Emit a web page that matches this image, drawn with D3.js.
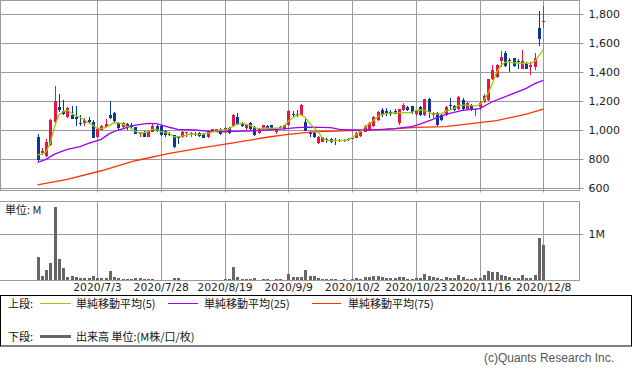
<!DOCTYPE html>
<html>
<head>
<meta charset="utf-8">
<script src="https://cdn.jsdelivr.net/npm/d3@7"></script>
<style>
  body { margin: 0; background: #fff; }
  svg { display: block; }
</style>
</head>
<body>
<div id="chart"></div>
<script>
// daily candles, 2020/6/15 .. 2020/12/8 (index = trading day)
const opens = [
  955,845,822,898,1057,1160,1132,1091,1105,1091,
  1052,1050,1071,1057,954,1002,1022,1105,1119,1050,
  1025,1045,1040,1020,976,990,956,990,1030,1029,
  995,976,967,956,953,980,978,976,979,974,
  954,988,995,1002,988,1015,1029,1091,1052,1013,
  1050,1022,981,1010,1030,1036,988,1025,1008,1036,
  1115,1115,1105,1060,990,983,915,922,938,938,
  930,935,930,938,945,949,961,991,998,1030,
  1071,1140,1130,1125,1135,1048,1140,1160,1165,1110,
  1158,1105,1213,1105,1122,1105,1105,1175,1168,1145,
  1208,1145,1175,1140,1160,1197,1210,1354,1365,1480,
  1535,1485,1496,1478,1423,1462,1440,1439,1705,1750
];
const highs = [
  975,877,940,1075,1305,1250,1209,1160,1170,1167,
  1105,1085,1091,1070,1010,1035,1077,1202,1125,1055,
  1055,1050,1050,1025,985,995,1003,1050,1035,1035,
  1000,985,970,960,992,985,988,985,985,980,
  1000,1012,1010,1015,1020,1020,1110,1121,1060,1040,
  1055,1030,1010,1040,1036,1040,1010,1030,1040,1140,
  1135,1140,1180,1075,995,990,960,955,950,945,
  945,942,940,945,955,985,1000,1035,1055,1100,
  1135,1155,1155,1140,1150,1150,1185,1170,1170,1140,
  1165,1215,1220,1125,1125,1110,1170,1220,1175,1235,
  1220,1195,1180,1146,1200,1250,1355,1450,1460,1545,
  1545,1500,1500,1490,1553,1470,1470,1530,1823,1857
];
const lows = [
  790,830,815,890,1050,1126,1105,1085,1075,1029,
  1029,1029,1043,946,950,1000,1020,1080,1060,1000,
  1010,1005,1010,972,952,953,952,985,990,960,
  955,960,880,905,950,953,955,960,955,945,
  950,985,988,965,980,975,1025,1035,1020,1005,
  1000,960,975,1005,1005,1000,975,1010,1000,1030,
  1083,1090,1100,995,952,945,905,918,915,915,
  898,918,920,925,938,945,955,985,995,1025,
  1065,1095,1100,1100,1110,1040,1130,1130,1115,1100,
  1100,1100,1082,1082,1030,1065,1100,1140,1135,1140,
  1130,1140,1135,1098,1140,1190,1200,1350,1360,1440,
  1440,1405,1440,1425,1420,1420,1381,1415,1584,1705
];
const closes = [
  795,858,919,1071,1202,1140,1112,1153,1077,1077,
  1050,1071,1057,946,1008,1029,1043,1084,1064,1015,
  1048,1015,1020,974,983,956,998,1029,995,967,
  967,972,884,945,988,985,984,972,960,946,
  995,1008,1008,974,1015,981,1105,1043,1030,1036,
  1008,967,1008,1036,1008,1003,1008,1015,1036,1133,
  1110,1112,1175,998,975,952,956,952,936,922,
  928,925,932,930,950,979,998,1032,1048,1094,
  1128,1105,1120,1110,1115,1145,1175,1140,1125,1133,
  1105,1213,1128,1120,1036,1071,1163,1165,1140,1232,
  1150,1186,1140,1144,1185,1236,1351,1416,1450,1503,
  1443,1475,1443,1475,1478,1423,1452,1496,1628,1756
];
// volume, millions of shares
const volumes = [
  0.50,0.09,0.22,0.37,1.58,0.46,0.27,0.08,0.09,0.07,
  0.05,0.05,0.05,0.09,0.05,0.05,0.05,0.20,0.07,0.05,
  0.03,0.03,0.03,0.05,0.05,0.02,0.03,0.03,0.005,0.005,
  0.005,0.005,0.05,0.05,0.005,0.005,0.005,0.005,0.005,0.005,
  0.005,0.005,0.005,0.005,0.03,0.03,0.29,0.07,0.03,0.03,
  0.03,0.05,0.01,0.03,0.03,0.01,0.03,0.03,0.01,0.14,
  0.07,0.07,0.07,0.22,0.09,0.09,0.05,0.03,0.03,0.03,
  0.03,0.01,0.03,0.01,0.03,0.05,0.03,0.07,0.07,0.09,
  0.09,0.07,0.05,0.05,0.05,0.07,0.07,0.03,0.03,0.05,
  0.05,0.14,0.09,0.07,0.05,0.03,0.07,0.05,0.05,0.12,
  0.07,0.03,0.03,0.05,0.05,0.12,0.20,0.18,0.18,0.12,
  0.09,0.07,0.05,0.05,0.12,0.05,0.05,0.12,0.92,0.76
];
// moving averages
const ma5 = [
  830,836,852,910,1025,1105,1128,1140,1117,1099,
  1090,1071,1052,1036,1014,1014,1018,1036,1052,1052,
  1043,1029,1014,995,983,983,990,1007,1007,990,
  985,979,956,956,960,967,974,974,972,974,
  979,988,995,1002,1002,1007,1029,1043,1048,1043,
  1036,1018,1011,1014,1014,1014,1014,1014,1030,1060,
  1085,1106,1106,1090,1050,1020,990,950,932,929,
  929,930,931,933,950,970,990,1020,1045,1066,
  1094,1108,1115,1118,1121,1122,1122,1122,1122,1138,
  1140,1135,1128,1112,1112,1115,1130,1140,1150,1170,
  1174,1174,1170,1168,1175,1205,1255,1320,1400,1445,
  1470,1470,1466,1462,1462,1462,1460,1475,1515,1556
];
const ma25 = [[0,779],[2,800],[4,836],[7,869],[10,887],[12,910],[15,938],[17,979],[19,1002],
  [23,1036],[26,1048],[28,1046],[31,1021],[33,1007],[37,1002],[40,995],[43,990],[46,992],
  [49,995],[54,1002],[58,1010],[61,1018],[64,1022],[69,1018],[71,1007],[74,1002],[80,1005],
  [84,1012],[88,1025],[90,1043],[93,1075],[96,1110],[100,1138],[104,1150],[107,1197],
  [111,1243],[115,1289],[117,1322],[119,1345]];
const ma75 = [[0,623],[7,662],[15,721],[23,790],[31,841],[39,880],[46,914],[54,952],[58,968],
  [63,984],[66,991],[74,998],[82,1007],[89,1020],[96,1025],[101,1043],[108,1066],
  [115,1112],[119,1146]];

const tickIdx = [14, 29, 44, 59, 74, 89, 104, 119];
const tickLabels = ["2020/7/3","2020/7/28","2020/8/19","2020/9/9","2020/10/2","2020/10/23","2020/11/16","2020/12/8"];
const priceTicks = [600, 800, 1000, 1200, 1400, 1600, 1800];
const volTicks = [1];

const W = 633, H = 371;
const plotR = 579.5;
const top1 = 0.5, bot1 = 190.5;
const top2 = 201.5, bot2 = 280.5;

const upColor = "#ee1144", downColor = "#0b379a";
const gridColor = "#9a9a9a";
const jp = "'Noto Sans CJK JP', sans-serif";
const num = "'DejaVu Sans', sans-serif";

const svg = d3.select("#chart").append("svg")
    .attr("width", W)
    .attr("height", H)
    .attr("viewBox", `0 0 ${W} ${H}`);

const x = d3.scaleLinear().domain([0, 119]).range([37.5, 543.25]);
const y = d3.scaleLinear().domain([600, 1800]).range([188.3, 14.3]);
const yv = d3.scaleLinear().domain([0, 1]).range([280.3, 234]);

const px = i => Math.round(x(i));
const crisp = v => Math.round(v) + 0.5;

// ---- price panel grid + frame
const g1 = svg.append("g");
g1.selectAll("line.hg").data(priceTicks).join("line")
    .attr("x1", 0).attr("x2", plotR + 4)
    .attr("y1", d => crisp(y(d))).attr("y2", d => crisp(y(d)))
    .attr("stroke", gridColor);
g1.selectAll("line.vg").data(tickIdx).join("line")
    .attr("x1", d => px(d) + 0.5).attr("x2", d => px(d) + 0.5)
    .attr("y1", top1).attr("y2", bot1 + 2)
    .attr("stroke", gridColor);
g1.append("rect")
    .attr("x", 0.5).attr("y", top1)
    .attr("width", plotR - 0.5).attr("height", bot1 - top1)
    .attr("fill", "none").attr("stroke", gridColor);

// right price axis
const yAxis = d3.axisRight(y).tickValues(priceTicks).tickSize(0).tickPadding(9)
    .tickFormat(d3.format(","));
svg.append("g")
    .attr("transform", `translate(${plotR},0)`)
    .call(yAxis)
    .call(g => g.select(".domain").remove())
    .call(g => g.selectAll("text").attr("font-family", num).attr("font-size", 11).attr("fill", "#222"));

// ---- candles
const idx = d3.range(opens.length);
const candles = svg.append("g").attr("shape-rendering", "crispEdges");
candles.selectAll("line").data(idx).join("line")
    .attr("x1", i => px(i) + 0.5).attr("x2", i => px(i) + 0.5)
    .attr("y1", i => y(highs[i])).attr("y2", i => y(lows[i]))
    .attr("stroke", i => closes[i] >= opens[i] ? upColor : downColor);
candles.selectAll("rect").data(idx).join("rect")
    .attr("x", i => px(i) - 1)
    .attr("width", 3)
    .attr("y", i => y(Math.max(opens[i], closes[i])))
    .attr("height", i => Math.max(1, Math.abs(y(opens[i]) - y(closes[i]))))
    .attr("fill", i => closes[i] >= opens[i] ? upColor : downColor);

// ---- moving averages
const line5 = d3.line().x((d, i) => x(i)).y(d => y(d));
const lineK = d3.line().x(d => x(d[0])).y(d => y(d[1]));
svg.append("path").datum(ma75).attr("d", lineK)
    .attr("fill", "none").attr("stroke", "#ff3300").attr("stroke-width", 1.3);
svg.append("path").datum(ma25).attr("d", lineK)
    .attr("fill", "none").attr("stroke", "#9900ff").attr("stroke-width", 1.3);
svg.append("path").datum(ma5).attr("d", line5)
    .attr("fill", "none").attr("stroke", "#99cc00").attr("stroke-width", 1.3);

// ---- volume panel
const g2 = svg.append("g");
g2.selectAll("line.hg").data(volTicks).join("line")
    .attr("x1", 0).attr("x2", plotR + 4)
    .attr("y1", d => crisp(yv(d))).attr("y2", d => crisp(yv(d)))
    .attr("stroke", gridColor);
g2.selectAll("line.vg").data(tickIdx).join("line")
    .attr("x1", d => px(d) + 0.5).attr("x2", d => px(d) + 0.5)
    .attr("y1", top2).attr("y2", bot2)
    .attr("stroke", gridColor);
g2.append("path")
    .attr("d", `M0,${top2}H${plotR}V${bot2}H0`)
    .attr("fill", "none").attr("stroke", gridColor);

g2.append("g").attr("shape-rendering", "crispEdges")
  .selectAll("rect").data(idx).join("rect")
    .attr("x", i => px(i) - 1)
    .attr("width", 3)
    .attr("y", i => yv(volumes[i]))
    .attr("height", i => yv(0) - yv(volumes[i]))
    .attr("fill", "#666");

const vAxis = d3.axisRight(yv).tickValues(volTicks).tickSize(0).tickPadding(9)
    .tickFormat(d => d + "M");
svg.append("g")
    .attr("transform", `translate(${plotR},0)`)
    .call(vAxis)
    .call(g => g.select(".domain").remove())
    .call(g => g.selectAll("text").attr("font-family", num).attr("font-size", 11).attr("fill", "#222"));

svg.append("text")
    .attr("x", 5).attr("y", 214)
    .attr("font-family", jp).attr("font-size", 11).attr("fill", "#222")
    .text("単位: M");

// date axis
const xAxis = d3.axisBottom(x).tickValues(tickIdx).tickSize(0).tickPadding(3)
    .tickFormat((d, i) => tickLabels[i]);
svg.append("g")
    .attr("transform", `translate(0,${bot2})`)
    .call(xAxis)
    .call(g => g.select(".domain").remove())
    .call(g => g.selectAll("text").attr("font-family", num).attr("font-size", 10.8).attr("fill", "#222"));

// ---- legend box
const lg = svg.append("g").attr("font-family", jp).attr("font-size", 11).attr("fill", "#111");
lg.append("rect")
    .attr("x", 0.5).attr("y", 295.5).attr("width", 631).attr("height", 50.5)
    .attr("fill", "none").attr("stroke", "#000");

const legendItems = [
  {x1: 40, x2: 71, tx: 76, color: "#99cc00", label: "単純移動平均(5)"},
  {x1: 168, x2: 198, tx: 204, color: "#9900ff", label: "単純移動平均(25)"},
  {x1: 312, x2: 341, tx: 348, color: "#ff3300", label: "単純移動平均(75)"}
];
lg.append("text").attr("x", 8).attr("y", 307.5).text("上段:");
legendItems.forEach(d => {
  lg.append("line")
      .attr("x1", d.x1).attr("x2", d.x2).attr("y1", 303.5).attr("y2", 303.5)
      .attr("stroke", d.color).attr("stroke-width", 1);
  lg.append("text").attr("x", d.tx).attr("y", 307.5).text(d.label);
});
lg.append("text").attr("x", 8).attr("y", 340.5).text("下段:");
lg.append("line")
    .attr("x1", 40).attr("x2", 71).attr("y1", 336.5).attr("y2", 336.5)
    .attr("stroke", "#666").attr("stroke-width", 3);
lg.append("text").attr("x", 76).attr("y", 340.5).text("出来高 単位:(M株/口/枚)");

svg.append("text")
    .attr("x", 614).attr("y", 362)
    .attr("text-anchor", "end")
    .attr("font-family", "'Liberation Sans Narrow', 'Liberation Sans', sans-serif")
    .attr("font-size", 12).attr("fill", "#555")
    .text("(c)Quants Research Inc.");
</script>
</body>
</html>
